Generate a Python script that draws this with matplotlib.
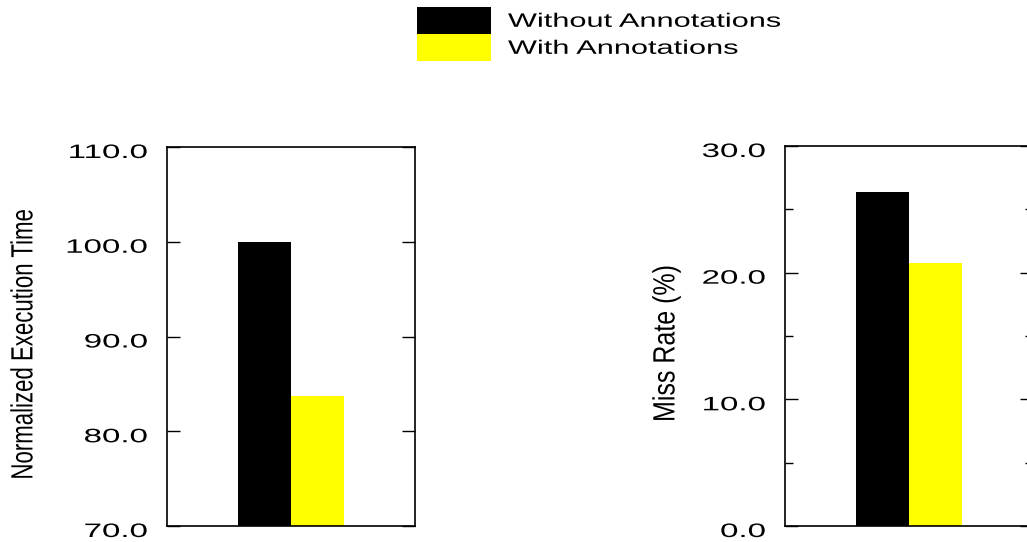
import matplotlib
matplotlib.use("Agg")
import matplotlib.pyplot as plt
from matplotlib.patheffects import AbstractPathEffect
from matplotlib.transforms import Affine2D
from matplotlib.ticker import MultipleLocator

plt.rcParams['font.family'] = ['Liberation Sans', 'DejaVu Sans']

series = ["Without Annotations", "With Annotations"]
colors = ["black", "yellow"]
exec_time = [100.0, 83.7]
miss_rate = [26.4, 20.8]
exec_ticks = [70.0, 80.0, 90.0, 100.0, 110.0]
miss_ticks = [0.0, 10.0, 20.0, 30.0]


class Widen(AbstractPathEffect):
    # the original text is drawn wide, so stretch glyphs sideways in display space
    def __init__(self, sx, anchor="center", dy=0):
        super().__init__()
        self.sx = sx
        self.anchor = anchor
        self.dy = dy

    def draw_path(self, renderer, gc, tpath, affine, rgbFace=None):
        box = tpath.get_extents(affine)
        x0 = {"left": box.x0, "right": box.x1, "center": (box.x0 + box.x1) / 2}[self.anchor]
        tr = affine + Affine2D().translate(-x0, 0).scale(self.sx, 1).translate(x0, self.dy)
        renderer.draw_path(gc, tpath, tr, rgbFace)


W, H = 1027, 542
fig = plt.figure(figsize=(W / 100, H / 100), dpi=100)

ax1 = fig.add_axes([167 / W, 16 / H, 248 / W, 379 / H])
ax2 = fig.add_axes([785 / W, 16 / H, 248 / W, 380 / H])

width = 0.214


def draw_panel(ax, values, ticks, label, label_x, label_size, label_sx, minor=None):
    bars = []
    for i, v in enumerate(values):
        bars.append(ax.bar((i - 0.5) * width, v, width, color=colors[i], linewidth=0))
    ax.set_xlim(-0.5, 0.5)
    ax.set_ylim(ticks[0], ticks[-1])
    ax.set_yticks(ticks)
    ax.set_yticklabels(["%.1f" % t for t in ticks])
    ax.set_xticks([])
    if minor:
        ax.yaxis.set_minor_locator(MultipleLocator(minor))
    ax.tick_params(axis="y", which="major", direction="in", length=9.5, width=1,
                   left=True, right=True, labelsize=14, pad=14)
    ax.tick_params(axis="y", which="minor", direction="in", length=6, width=1,
                   left=True, right=True)
    for s in ax.spines.values():
        s.set_linewidth(1.2)
    for lab in ax.get_yticklabels():
        lab.set_path_effects([Widen(1.7, "right", -4.5)])
    ax.set_ylabel(label, fontsize=label_size, va="center")
    ax.yaxis.set_label_coords(label_x, 0.48)
    ax.yaxis.label.set_path_effects([Widen(label_sx, "center")])
    return bars


bars = draw_panel(ax1, exec_time, exec_ticks, "Normalized Execution Time", -0.577, 16, 1.38)
draw_panel(ax2, miss_rate, miss_ticks, "Miss Rate (%)", -0.48, 18, 1.23, minor=5)

leg = fig.legend(handles=bars, labels=series, loc="upper left",
                 bbox_to_anchor=(417 / W, 1 - 7 / H), bbox_transform=fig.transFigure,
                 frameon=False, fontsize=14, handlelength=3.81, handleheight=1.76,
                 labelspacing=0, handletextpad=0.87, borderpad=0, borderaxespad=0)
for t in leg.get_texts():
    t.set_path_effects([Widen(1.58, "left")])

fig.savefig("out.png", dpi=100)
